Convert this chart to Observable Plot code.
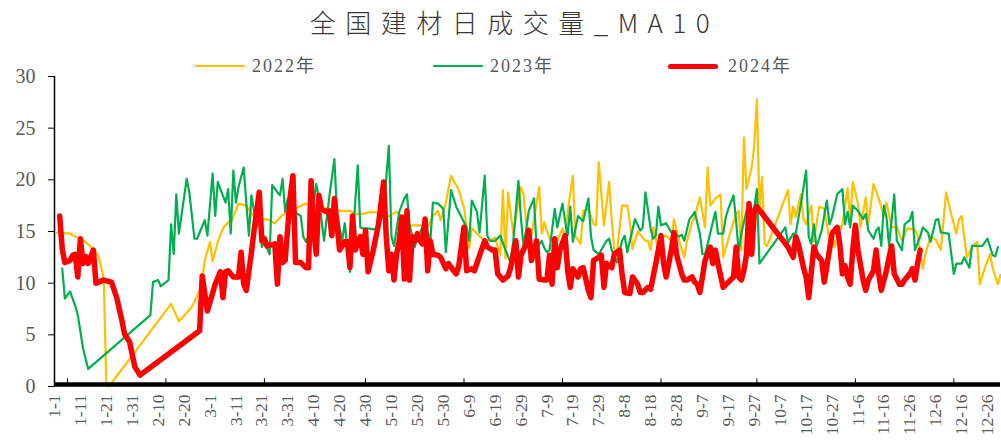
<!DOCTYPE html>
<html>
<head>
<meta charset="utf-8">
<script src="https://cdn.jsdelivr.net/npm/d3@7"></script>
<script src="https://cdn.jsdelivr.net/npm/@observablehq/plot@0.6"></script>
<style>
  body { margin: 0; background: #fff; }
  #wrap { position: relative; width: 1001px; height: 442px; overflow: hidden; }
  #title { position: absolute; left: 14px; width: 1001px; top: 3px; text-align: center;
           font-family: "Noto Sans CJK SC", sans-serif; font-size: 26px; letter-spacing: 9.5px;
           color: #383838; font-weight: 300; z-index: 2; }
  .leg { position: absolute; z-index: 2; }
  .legline { position: absolute; border-radius: 3px; }
  .legtext { position: absolute; font-family: "Liberation Serif", "Noto Sans CJK SC", serif;
             font-size: 18px; letter-spacing: 2px; color: #595959; line-height: 20px; white-space: nowrap; }
  #chart { position: absolute; left: 0; top: 0; }
</style>
</head>
<body>
<div id="wrap">
  <div id="title"></div>
  <div id="legend"></div>
  <div id="chart"></div>
</div>
<script>
// ---------- data (day offset from Jan 1 on the 2024 calendar, value) ----------
const titleText = "全国建材日成交量_MA10";
const seriesNames = ["2022年", "2023年", "2024年"];
const seriesColors = ["#FFC000", "#00B050", "#FF0000"];
const yTicks = [0, 5, 10, 15, 20, 25, 30];
const xTickLabels = ["1-1","1-11","1-21","1-31","2-10","2-20","3-1","3-11","3-21","3-31","4-10","4-20","4-30",
  "5-10","5-20","5-30","6-9","6-19","6-29","7-9","7-19","7-29","8-8","8-18","8-28","9-7","9-17","9-27",
  "10-7","10-17","10-27","11-6","11-16","11-26","12-6","12-16","12-26"];
const majorTickLabels = ["1-6","2-13","3-22","4-30","6-7","7-15","8-22","9-28","11-5","12-13"];

const s2022 = [[1,14.9],[6,14.8],[8,14.5],[10,14.3],[12,14.0],[14,13.5],[15,13.3],[17,12.6],[19,10.5],[20,0.1],[21,0],
 [45,8.0],[48,6.3],[53,7.7],[56,9.3],[57,10.3],[58,12.2],[60,14.0],[61,12.1],[63,14.0],[65,15.3],[67,15.9],[68,15.8],
 [71,17.7],[74,17.5],[77,16.4],[80,16.1],[82,16.2],[85,15.8],[88,16.6],[92,17.1],[97,17.7],[100,17.5],[102,17.4],
 [106,17.2],[110,17.0],[114,17.0],[116,16.7],[119,16.7],[122,16.9],[125,16.8],[129,16.5],[132,16.9],[134,16.4],
 [137,15.6],[141,15.6],[144,15.4],[146,16.5],[148,17.0],[149,16.1],[151,17.8],[153,20.4],[156,19.0],[158,17.3],
 [160,13.4],[161,15.3],[163,14.8],[165,14.3],[168,14.1],[170,14.4],[172,12.7],[173,19.0],[174,12.4],[175,18.8],
 [177,14.8],[180,19.3],[181,18.6],[182,15.8],[184,14.6],[187,19.3],[188,14.8],[189,15.9],[191,14.3],[192,14.1],
 [194,14.1],[196,15.3],[197,14.3],[198,16.9],[200,20.4],[201,14.5],[203,13.8],[204,17.0],[206,17.2],[208,15.7],
 [209,15.6],[210,21.7],[212,15.6],[214,19.8],[215,16.1],[216,13.2],[217,12.9],[219,17.5],[221,17.5],[222,16.0],
 [223,13.3],[225,15.0],[228,14.1],[229,14.1],[230,13.2],[231,15.4],[233,13.2],[235,14.5],[236,14.6],[238,14.1],
 [239,16.2],[241,14.1],[243,12.5],[244,14.0],[246,15.9],[247,16.4],[249,18.3],[251,15.4],[252,21.2],[253,17.5],
 [255,18.2],[257,18.6],[258,12.5],[261,15.1],[263,16.7],[264,17.0],[265,13.2],[266,24.1],[267,19.1],[269,21.2],
 [270,23.3],[271,27.8],[272,17.2],[273,20.3],[274,13.8],[275,13.6],[283,19.0],[284,15.7],[285,17.4],[286,16.4],
 [288,18.6],[289,16.2],[290,15.7],[292,17.5],[293,14.0],[295,17.4],[297,17.2],[299,14.1],[300,15.1],[301,13.5],
 [303,15.1],[304,15.7],[306,19.2],[307,16.0],[308,19.8],[310,17.7],[311,15.4],[313,18.3],[314,15.7],[316,19.6],
 [318,18.2],[320,16.5],[321,17.8],[323,15.4],[325,15.5],[327,14.1],[329,15.3],[332,15.2],[333,14.6],[335,11.4],
 [336,12.8],[338,14.5],[340,14.2],[342,13.2],[344,18.8],[346,16.7],[348,14.8],[349,16.2],[350,16.5],[352,12.5],
 [354,13.5],[356,14.0],[357,9.9],[359,11.5],[361,12.8],[362,11.4],[364,9.9],[365,10.8]];

const s2023 = [[3,11.4],[4,8.5],[6,9.2],[8,7.8],[9,6.9],[11,3.7],[13,1.7],[37,6.9],[38,10.1],[40,10.3],[41,9.7],
 [44,10.3],[45,15.7],[46,12.8],[47,18.6],[48,14.8],[51,20.1],[52,18.8],[54,14.3],[55,14.3],[58,16.1],[59,14.6],
 [61,20.6],[62,16.5],[63,19.8],[64,19.1],[66,17.8],[67,19.1],[68,14.8],[69,20.9],[70,17.8],[71,19.3],[73,21.2],
 [74,17.8],[75,14.6],[76,18.5],[78,15.5],[79,16.4],[80,13.5],[81,14.0],[83,12.8],[84,19.5],[86,18.8],[87,18.5],
 [88,20.1],[89,16.9],[90,18.2],[92,17.0],[95,16.5],[96,14.5],[97,14.0],[98,14.6],[100,17.8],[101,19.6],[102,18.2],
 [104,14.1],[105,16.2],[106,18.3],[108,22.0],[109,16.7],[111,14.1],[112,15.8],[114,11.1],[115,14.1],[117,21.4],
 [118,15.4],[119,15.3],[121,15.3],[123,15.2],[125,15.4],[127,16.9],[129,23.3],[130,14.5],[131,13.6],[133,16.9],
 [135,18.2],[136,18.6],[137,15.6],[138,14.6],[139,13.5],[140,14.4],[142,15.4],[144,15.0],[145,14.0],[146,17.8],
 [148,17.7],[150,17.2],[151,13.0],[152,16.1],[153,19.0],[155,17.4],[159,15.4],[160,14.1],[161,18.0],[163,16.9],
 [164,14.9],[166,20.4],[167,14.6],[168,14.1],[170,14.1],[172,14.6],[174,13.2],[176,12.0],[177,14.1],[179,19.9],
 [180,16.2],[181,13.5],[183,17.0],[185,18.2],[186,13.4],[188,14.1],[189,13.4],[190,13.0],[191,13.2],[193,17.2],
 [194,15.4],[196,17.7],[197,16.0],[198,14.6],[199,17.4],[200,14.0],[202,16.5],[204,16.0],[206,18.2],[207,14.5],
 [208,13.2],[210,12.8],[213,14.1],[214,14.3],[215,13.2],[217,12.0],[219,14.1],[220,14.6],[221,13.0],[222,14.1],
 [224,16.2],[226,15.1],[227,15.4],[228,18.8],[230,15.3],[231,14.3],[232,14.6],[233,17.4],[234,15.6],[236,15.8],
 [238,14.9],[241,14.5],[242,14.7],[243,14.1],[245,16.2],[246,16.5],[247,16.9],[249,14.8],[250,12.8],[251,12.8],
 [252,13.8],[254,15.9],[255,16.9],[256,14.8],[258,14.8],[259,16.4],[260,17.2],[262,18.5],[263,16.0],[264,13.0],
 [265,14.8],[267,17.0],[268,14.8],[269,15.5],[271,19.1],[272,11.9],[282,15.4],[283,13.9],[285,14.8],[286,14.8],
 [288,17.7],[290,20.9],[291,14.5],[292,13.8],[293,15.7],[294,13.5],[296,15.1],[298,18.0],[299,15.7],[300,16.4],
 [302,18.6],[304,19.1],[305,15.7],[306,16.9],[307,15.4],[308,17.5],[310,17.0],[312,16.2],[313,16.7],[314,15.1],
 [316,14.3],[317,15.1],[318,15.4],[319,13.6],[320,17.5],[321,16.4],[322,13.6],[324,18.6],[325,14.1],[327,13.2],
 [328,15.7],[330,16.1],[331,16.9],[332,13.2],[334,14.5],[335,15.4],[337,14.9],[338,14.0],[340,16.1],[341,16.2],
 [342,14.9],[345,14.8],[347,10.9],[348,11.9],[350,11.9],[351,12.5],[353,11.5],[354,13.6],[356,13.6],[358,13.6],
 [360,14.3],[362,12.7],[363,12.6],[364,13.5]];

const s2024 = [[2,16.5],[3,13.3],[4,12.0],[6,12.2],[7,12.7],[8,12.8],[9,10.6],[10,14.3],[11,11.9],[12,12.6],[13,11.9],
 [15,13.2],[16,10.0],[17,10.1],[19,10.3],[22,10.1],[24,8.6],[26,6.4],[27,5.1],[29,4.3],[31,1.9],[33,1.1],[56,5.4],
 [57,10.7],[59,7.3],[62,9.9],[64,11.1],[65,8.6],[66,11.1],[67,11.2],[69,10.6],[71,10.6],[72,13.0],[73,9.9],[74,9.3],
 [76,13.0],[77,15.1],[79,18.8],[80,14.1],[81,14.3],[82,13.6],[85,13.8],[86,9.9],[87,14.5],[88,12.0],[89,12.2],
 [91,18.5],[92,20.4],[93,12.0],[95,12.0],[97,11.5],[98,11.5],[99,19.9],[100,15.1],[101,12.8],[102,18.5],[103,17.2],
 [105,16.9],[106,17.0],[107,14.6],[108,18.2],[110,13.2],[112,14.0],[113,14.0],[114,11.5],[115,16.5],[116,13.2],
 [118,14.5],[119,12.8],[120,15.1],[121,11.1],[123,13.2],[125,15.7],[127,19.8],[128,14.5],[129,11.2],[130,12.8],
 [131,10.3],[132,12.8],[133,14.1],[134,16.4],[135,10.4],[136,17.0],[137,10.3],[138,14.5],[139,14.1],[140,14.8],
 [141,14.1],[142,13.8],[143,16.2],[144,11.2],[145,14.1],[146,12.8],[148,12.7],[149,12.5],[151,11.4],[152,11.9],
 [154,11.2],[155,10.9],[156,11.7],[158,15.4],[159,11.2],[161,11.4],[162,11.2],[164,12.7],[166,14.1],[167,13.5],
 [169,13.2],[170,13.2],[171,10.9],[173,10.3],[175,10.7],[176,11.5],[178,14.1],[179,10.6],[180,12.7],[182,13.8],
 [183,15.1],[184,12.2],[186,14.1],[187,10.4],[189,10.3],[190,10.3],[191,12.7],[192,9.9],[193,14.3],[194,11.5],
 [195,13.2],[197,14.6],[198,11.2],[199,9.6],[200,11.4],[202,10.6],[203,11.4],[204,11.5],[206,9.3],[207,8.6],
 [208,12.2],[210,12.5],[211,12.7],[212,9.6],[213,11.9],[215,11.5],[216,12.8],[218,13.2],[219,10.9],[220,9.1],
 [222,9.0],[223,10.6],[225,9.9],[226,9.1],[227,9.1],[229,9.6],[230,9.4],[232,11.9],[234,14.6],[235,11.9],[236,10.6],
 [238,13.2],[239,14.9],[240,12.8],[242,10.9],[243,10.3],[244,10.3],[246,10.6],[247,10.1],[248,9.9],[249,9.1],
 [250,10.6],[251,12.2],[253,13.5],[254,11.9],[255,13.2],[256,11.9],[258,9.6],[260,10.1],[262,10.6],[263,13.5],
 [264,10.6],[265,10.3],[266,11.2],[267,12.8],[268,17.7],[269,12.8],[270,17.0],[271,17.4],[283,13.5],[285,12.5],
 [286,14.5],[287,13.8],[289,11.5],[290,10.6],[291,8.6],[293,13.5],[294,12.8],[296,12.2],[297,10.1],[299,13.2],
 [300,14.8],[302,15.4],[303,13.8],[304,10.9],[305,11.7],[306,10.6],[307,9.9],[308,13.2],[309,15.6],[310,13.2],
 [312,10.3],[313,9.3],[314,10.3],[316,11.2],[317,13.2],[318,10.9],[319,9.3],[321,11.2],[322,12.5],[323,13.6],
 [324,10.9],[326,9.9],[327,9.9],[328,10.3],[330,10.9],[331,11.4],[332,10.3],[333,11.9],[334,13.2]];

// ---------- helpers ----------
const dayToDate = d => new Date(Date.UTC(2024, 0, 1 + d));
const mdToDate = s => { const [m, d] = s.split("-").map(Number); return new Date(Date.UTC(2024, m - 1, d)); };
const toRows = pairs => pairs.map(([d, v]) => ({date: dayToDate(d), value: v}));
const xStart = new Date(Date.UTC(2024, 0, 1));
const xEnd = new Date(Date.UTC(2024, 11, 31));
const xTicks = xTickLabels.map(mdToDate);
const majorTicks = majorTickLabels.map(mdToDate);
const fmt = d => `${d.getUTCMonth() + 1}-${d.getUTCDate()}`;

// ---------- title & legend ----------
document.getElementById("title").textContent = titleText;
const legendPos = [{line: 195, text: 252, w: 2}, {line: 433, text: 490, w: 2}, {line: 668, text: 728, w: 5}];
const legend = document.getElementById("legend");
seriesNames.forEach((name, i) => {
  const p = legendPos[i];
  const ln = document.createElement("div");
  ln.className = "leg legline";
  ln.style.cssText = `left:${p.line}px;top:${66 - p.w / 2}px;width:50px;height:${p.w}px;background:${seriesColors[i]};`;
  legend.appendChild(ln);
  const tx = document.createElement("div");
  tx.className = "leg legtext";
  tx.style.cssText = `left:${p.text}px;top:56px;`;
  tx.textContent = name;
  legend.appendChild(tx);
});

// ---------- chart ----------
const chart = Plot.plot({
  width: 1001,
  height: 442,
  marginTop: 76,
  marginBottom: 56,
  marginLeft: 54,
  marginRight: 1,
  style: {fontFamily: "Liberation Serif, serif", background: "transparent"},
  x: {type: "utc", domain: [xStart, xEnd], axis: null},
  y: {domain: [0, 30], axis: null},
  marks: [
    // y axis
    Plot.ruleX([xStart], {stroke: "#000", strokeWidth: 1.5}),
    Plot.axisY(yTicks, {tickSize: 6, tickPadding: 13, fontSize: 20, fill: "#595959", stroke: "#000",
      label: null, tickFormat: d => String(d)}),
    // series
    Plot.line(toRows(s2022), {x: "date", y: "value", stroke: seriesColors[0], strokeWidth: 2.2, strokeLinejoin: "round"}),
    Plot.line(toRows(s2023), {x: "date", y: "value", stroke: seriesColors[1], strokeWidth: 2.2, strokeLinejoin: "round"}),
    Plot.line(toRows(s2024), {x: "date", y: "value", stroke: seriesColors[2], strokeWidth: 5.5, strokeLinejoin: "round", strokeLinecap: "round"}),
    // x axis
    Plot.ruleY([0], {stroke: "#000", strokeWidth: 4.5, dy: -2}),
    Plot.ruleX(majorTicks, {x: d => d, y1: () => 0, y2: () => 0.55, stroke: "#000", strokeWidth: 1, dy: -2}),
    Plot.text(xTicks, {x: d => d, frameAnchor: "bottom", dy: 8, rotate: -90, textAnchor: "end", lineAnchor: "middle",
      text: fmt, fontSize: 17.5, fill: "#595959", style: "letter-spacing:1px"})
  ]
});
document.getElementById("chart").appendChild(chart);
</script>
</body>
</html>
